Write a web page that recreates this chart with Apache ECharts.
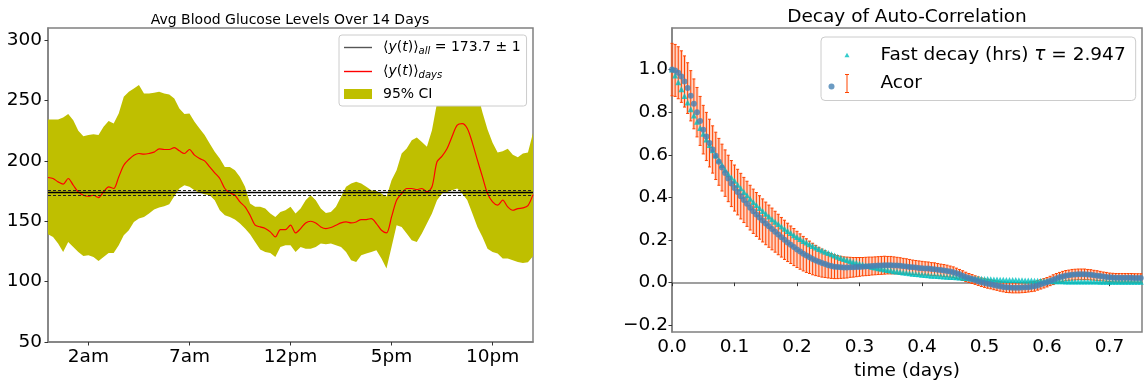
<!DOCTYPE html>
<html>
<head>
<meta charset="utf-8">
<title>Glucose</title>
<script src="https://cdn.jsdelivr.net/npm/echarts@6/dist/echarts.min.js"></script>
<style>
  html, body { margin: 0; padding: 0; background: #fff; }
  #chart { width: 1147px; height: 386px; }
</style>
</head>
<body>
<div id="chart"></div>
<script>
// left panel: mean glucose over the day, read every 15 min
var HOUR_STEP = 0.25;
var glucoseMean = [
  186.2, 185.4, 182.6, 180.7, 185.4, 179.8, 174.3, 171.5, 170.7, 171.5, 169.6, 174.3, 178.5, 177.1, 186.7, 196.4, 201.1, 204.7,
  206.1, 205.5, 206.1, 207.2, 209.9, 209.4, 209.4, 211.0, 208.3, 206.1, 209.4, 204.7, 201.9, 200.0, 195.0, 190.1, 185.4, 177.1,
  173.5, 171.5, 166.0, 161.9, 155.0, 146.7, 145.3, 144.0, 141.2, 137.0, 143.1, 143.0,
  146.7, 140.3, 143.9, 148.6, 150.0, 148.6, 145.3, 143.9, 144.8, 146.7, 148.6, 149.4, 148.6, 149.4, 151.4, 151.4, 152.2, 148.1,
  142.5, 140.3, 153.6, 167.4, 172.9, 177.1, 177.1, 176.2, 177.1, 174.3, 178.5,
  199.2, 203.9, 210.2, 220.4, 229.6, 230.9, 226.8, 214.9, 200.6, 186.7, 172.9, 166.0, 163.3, 167.4, 161.9, 159.1, 160.5,
  161.0, 163.0, 172.0
];
var ciUpper = [
  234.3, 234.3, 234.3, 235.9, 238.7, 233.7, 224.9, 220.4, 221.3, 222.1, 221.3, 228.2, 232.9, 230.9, 239.2, 253.0, 257.2, 259.9,
  262.7, 255.8, 255.8, 256.4, 257.2, 255.8, 255.0, 251.7, 243.4, 238.7, 239.2, 232.3, 226.8, 221.3, 214.4, 207.5, 201.9, 195.0,
  195.0, 192.3, 186.7, 178.5, 164.6, 161.9, 161.9, 160.5, 156.4, 153.6, 157.7, 159.0,
  161.9, 156.4, 160.5, 167.4, 171.5, 167.4, 160.5, 156.9, 157.7, 161.9, 170.2, 178.5, 181.2, 182.6, 181.2, 178.5, 175.7, 175.1,
  172.9, 170.2, 184.0, 192.3, 206.1, 210.2, 217.1, 219.3, 215.7, 211.6, 225.4,
  248, 258, 265, 270, 274, 276, 274, 268, 256, 240, 226, 215, 207, 208, 210, 205, 203, 206, 207, 223
];
var ciLower = [
  139.2, 137.0, 131.5, 124.6, 132.9, 128.7, 124.6, 121.3, 121.8, 120.4, 117.1, 120.4, 123.7, 123.7, 130.1, 138.4, 142.5, 149.4,
  152.2, 153.6, 156.4, 159.7, 161.3, 162.4, 164.1, 170.7, 177.1, 179.8, 178.5, 175.7, 173.5, 172.4, 171.5, 167.4, 159.1, 155.0,
  153.6, 151.4, 148.1, 144.0, 139.2, 132.9, 126.5, 124.6, 123.7, 120.4, 128.7, 130.1,
  130.1, 124.6, 128.7, 127.3, 127.3, 128.7, 131.5, 130.9, 131.5, 130.1, 128.7, 124.6, 117.7, 116.3, 121.8, 123.2, 124.6, 126.0,
  119.1, 110.8, 128.7, 146.7, 145.3, 139.8, 134.3, 132.9, 139.8, 148.1, 156.4,
  167.4, 172.9, 174.3, 175.7, 177.1, 172.9, 167.4, 156.4, 145.3, 137.0, 127.3, 124.6, 123.2, 119.1, 119.1, 117.7, 116.3,
  115.5, 116.0, 121.0
];
var meanAll = 173.7;
var meanAllBounds = [171.7, 175.7];
var hourTicks = [2, 7, 12, 17, 22];
var hourLabels = ['2am', '7am', '12pm', '5pm', '10pm'];
var glucoseTicks = [50, 100, 150, 200, 250, 300];

// right panel: auto-correlation, one value per 0.005 days of lag
var LAG_STEP = 0.005;
var acor = [
  1.000, 0.996, 0.985, 0.967, 0.944, 0.913, 0.877, 0.839, 0.800, 0.759,
  0.718, 0.686, 0.655, 0.625, 0.595, 0.567, 0.540, 0.514, 0.489, 0.465,
  0.444, 0.425, 0.406, 0.388, 0.370, 0.352, 0.335, 0.320, 0.306, 0.292,
  0.278, 0.265, 0.252, 0.239, 0.226, 0.213, 0.201, 0.189, 0.178, 0.167,
  0.156, 0.146, 0.136, 0.127, 0.119, 0.111, 0.104, 0.098, 0.092, 0.087,
  0.082, 0.078, 0.075, 0.073, 0.072, 0.071, 0.071, 0.072, 0.072, 0.073,
  0.074, 0.075, 0.076, 0.077, 0.078, 0.079, 0.080, 0.081, 0.082, 0.082,
  0.082, 0.081, 0.080, 0.079, 0.077, 0.076, 0.074, 0.072, 0.071, 0.069,
  0.068, 0.067, 0.066, 0.064, 0.063, 0.061, 0.059, 0.057, 0.055, 0.052,
  0.049, 0.044, 0.039, 0.033, 0.027, 0.022, 0.017, 0.012, 0.007, 0.002,
  -0.002, -0.005, -0.008, -0.011, -0.014, -0.017, -0.020, -0.022, -0.023, -0.024,
  -0.024, -0.024, -0.023, -0.022, -0.021, -0.019, -0.017, -0.013, -0.008, -0.003,
  0.002, 0.008, 0.014, 0.020, 0.025, 0.029, 0.033, 0.035, 0.037, 0.038,
  0.039, 0.039, 0.039, 0.038, 0.037, 0.035, 0.033, 0.031, 0.029, 0.027,
  0.025, 0.024, 0.023, 0.023, 0.023, 0.023, 0.023, 0.023, 0.022, 0.022,
  0.022
];
var acorErr = [
  0.123, 0.122, 0.122, 0.121, 0.120, 0.119, 0.118, 0.117, 0.116, 0.115,
  0.114, 0.113, 0.112, 0.111, 0.111, 0.110, 0.110, 0.109, 0.109, 0.108,
  0.108, 0.107, 0.107, 0.106, 0.106, 0.105, 0.104, 0.103, 0.102, 0.101,
  0.100, 0.099, 0.098, 0.096, 0.095, 0.093, 0.092, 0.090, 0.088, 0.087,
  0.085, 0.083, 0.081, 0.079, 0.076, 0.074, 0.071, 0.068, 0.066, 0.063,
  0.060, 0.058, 0.056, 0.054, 0.052, 0.050, 0.049, 0.047, 0.046, 0.045,
  0.044, 0.043, 0.043, 0.043, 0.042, 0.042, 0.042, 0.042, 0.042, 0.041,
  0.041, 0.040, 0.039, 0.038, 0.037, 0.036, 0.035, 0.034, 0.033, 0.033,
  0.032, 0.031, 0.031, 0.030, 0.030, 0.029, 0.028, 0.028, 0.027, 0.026,
  0.025, 0.024, 0.023, 0.023, 0.022, 0.021, 0.021, 0.020, 0.020, 0.020,
  0.020, 0.021, 0.021, 0.022, 0.022, 0.023, 0.023, 0.024, 0.024, 0.024,
  0.024, 0.024, 0.024, 0.024, 0.023, 0.023, 0.023, 0.022, 0.022, 0.022,
  0.022, 0.022, 0.023, 0.023, 0.023, 0.024, 0.024, 0.024, 0.025, 0.025,
  0.025, 0.025, 0.025, 0.024, 0.024, 0.023, 0.023, 0.022, 0.021, 0.021,
  0.020, 0.020, 0.020, 0.020, 0.020, 0.020, 0.020, 0.020, 0.020, 0.020,
  0.020
];
var fastDecay = [
  1.000, 0.972, 0.940, 0.908, 0.876, 0.845, 0.814, 0.784, 0.755, 0.726,
  0.699, 0.672, 0.646, 0.621, 0.597, 0.574, 0.552, 0.530, 0.509, 0.493,
  0.478, 0.460, 0.443, 0.426, 0.410, 0.394, 0.379, 0.364, 0.350, 0.336,
  0.323, 0.310, 0.298, 0.286, 0.275, 0.264, 0.253, 0.243, 0.233, 0.223,
  0.214, 0.205, 0.196, 0.188, 0.180, 0.172, 0.165, 0.158, 0.151, 0.145,
  0.139, 0.133, 0.127, 0.121, 0.116, 0.111, 0.106, 0.102, 0.097, 0.093,
  0.089, 0.085, 0.081, 0.078, 0.074, 0.071, 0.068, 0.065, 0.062, 0.059,
  0.057, 0.054, 0.052, 0.050, 0.048, 0.046, 0.044, 0.042, 0.041, 0.039,
  0.037, 0.036, 0.035, 0.033, 0.032, 0.031, 0.030, 0.029, 0.028, 0.027,
  0.026, 0.025, 0.024, 0.023, 0.022, 0.021, 0.020, 0.019, 0.019, 0.018,
  0.017, 0.017, 0.016, 0.015, 0.015, 0.014, 0.014, 0.013, 0.013, 0.012,
  0.012, 0.011, 0.011, 0.010, 0.010, 0.010, 0.009, 0.009, 0.009, 0.008,
  0.008, 0.008, 0.007, 0.007, 0.007, 0.007, 0.006, 0.006, 0.006, 0.006,
  0.006, 0.005, 0.005, 0.005, 0.005, 0.005, 0.005, 0.004, 0.004, 0.004,
  0.004, 0.004, 0.004, 0.004, 0.004, 0.004, 0.004, 0.004, 0.004, 0.004,
  0.004
];
var lagTicks = [0, 0.1, 0.2, 0.3, 0.4, 0.5, 0.6, 0.7];
var acorTicks = [-0.2, 0, 0.2, 0.4, 0.6, 0.8, 1.0];

var FONT = 'DejaVu Sans';
var SPINE = '#808080';
var OLIVE = '#bfbf00';
var ERR_COLOR = '#ff4500';

var hours = glucoseMean.map(function (_, i) { return i * HOUR_STEP; });
var lags = acor.map(function (_, i) { return +(i * LAG_STEP).toFixed(3); });

function axisBase(grid) {
  return {
    gridIndex: grid,
    type: 'value',
    axisLine: {show: true, lineStyle: {color: SPINE, width: 1.5}},
    splitLine: {show: false},
    axisTick: {length: 3.5, lineStyle: {color: '#333', width: 1}},
    axisLabel: {fontSize: 18.5, color: '#000', fontFamily: FONT}
  };
}

function fmtAcor(v) {
  var s = Math.abs(v).toFixed(1);
  return v < -1e-9 ? '\u2212' + s : s;
}

var chart = echarts.init(document.getElementById('chart'), null, {renderer: 'canvas'});

var xLeft = axisBase(0);
xLeft.min = 0; xLeft.max = 24;
xLeft.axisTick.customValues = hourTicks;
xLeft.axisLabel.customValues = hourTicks;
xLeft.axisLabel.margin = 6;
xLeft.axisLabel.formatter = function (v) { return hourLabels[hourTicks.indexOf(v)]; };

var yLeft = axisBase(0);
yLeft.min = 50; yLeft.max = 310;
yLeft.axisTick.customValues = glucoseTicks;
yLeft.axisLabel.customValues = glucoseTicks;
yLeft.axisLabel.margin = 6;

var xRight = axisBase(1);
xRight.min = 0; xRight.max = 0.752;
xRight.axisTick.customValues = lagTicks;
xRight.axisLabel.customValues = lagTicks;
xRight.axisLabel.margin = 6;
xRight.axisLabel.formatter = fmtAcor;
xRight.name = 'time (days)';
xRight.nameLocation = 'middle';
xRight.nameGap = 23;
xRight.nameTextStyle = {fontSize: 18.5, color: '#000', fontFamily: FONT};

var yRight = axisBase(1);
yRight.min = -0.232; yRight.max = 1.195;
yRight.axisTick.customValues = acorTicks;
yRight.axisLabel.customValues = acorTicks;
yRight.axisLabel.margin = 4;
yRight.axisLabel.formatter = fmtAcor;

var legendText = {
  meanAll: '{n|\u27e8}{i|y}{n|(}{i|t}{n|)\u27e9}{s|all}{n| = 173.7 \u00b1 1}',
  meanDays: '{n|\u27e8}{i|y}{n|(}{i|t}{n|)\u27e9}{s|days}',
  ci: '{n|95% CI}',
  fit: '{b|Fast decay (hrs) }{bi|\u03c4}{b| = 2.947}',
  Acor: '{b|Acor}'
};

// thin horizontal bar inside a 28x10 box, used as legend line handle
var LINE_ICON = 'path://M0,0 M28,10 M0,4.3 h28 v1.4 h-28 z';

var option = {
  animation: false,
  textStyle: {fontFamily: FONT},
  title: [
    {text: 'Avg Blood Glucose Levels Over 14 Days', left: 290, top: 13, textAlign: 'center', padding: 0,
     textStyle: {fontSize: 14, fontWeight: 'normal', color: '#000', fontFamily: FONT}},
    {text: 'Decay of Auto-Correlation', left: 907, top: 8, textAlign: 'center', padding: 0,
     textStyle: {fontSize: 18.5, fontWeight: 'normal', color: '#000', fontFamily: FONT}}
  ],
  grid: [
    {left: 48, top: 28, width: 485, height: 314, show: true, borderColor: SPINE, borderWidth: 1.5},
    {left: 672, top: 28, width: 470, height: 314, show: true, borderColor: SPINE, borderWidth: 1.5}
  ],
  xAxis: [xLeft, xRight],
  yAxis: [yLeft, yRight],
  legend: [
    {
      data: [{name: 'meanAll', icon: LINE_ICON}, {name: 'meanDays', icon: LINE_ICON}, {name: 'ci', icon: 'rect'}],
      orient: 'vertical', left: 339, top: 35,
      padding: [4, 6, 5, 5], itemGap: 7, itemWidth: 28, itemHeight: 10,
      backgroundColor: '#ffffff', borderColor: '#cccccc', borderWidth: 1, borderRadius: 3,
      selectedMode: false,
      formatter: function (name) { return legendText[name]; },
      textStyle: {
        padding: [0, 0, 0, 6],
        rich: {
          n: {fontSize: 14, fontFamily: FONT, color: '#000', lineHeight: 16},
          i: {fontSize: 14, fontFamily: FONT, fontStyle: 'italic', color: '#000', lineHeight: 16},
          s: {fontSize: 10, fontFamily: FONT, fontStyle: 'italic', color: '#000', lineHeight: 16, padding: [7, 0, 0, 0]}
        }
      }
    },
    {
      data: [
        {name: 'fit', icon: 'path://M0,0 M37,20 M16,12.3 L21,12.3 L18.5,7.7 Z'},
        {name: 'Acor', icon: 'path://M0,0 M37,20 M18,1 h1 v18 h-1 z M16.5,0.5 h4 v1 h-4 z M16.5,18.5 h4 v1 h-4 z'}
      ],
      orient: 'vertical', left: 821, top: 37,
      padding: [8, 10, 7, 7.5], itemGap: 8.5, itemWidth: 37, itemHeight: 20,
      backgroundColor: '#ffffff', borderColor: '#cccccc', borderWidth: 1, borderRadius: 4,
      selectedMode: false,
      formatter: function (name) { return legendText[name]; },
      textStyle: {
        padding: [0, 0, 0, 10],
        rich: {
          b: {fontSize: 18.5, fontFamily: FONT, color: '#000', lineHeight: 22},
          bi: {fontSize: 18.5, fontFamily: FONT, fontStyle: 'italic', color: '#000', lineHeight: 22}
        }
      }
    },
    {
      // blue marker drawn on top of the error-bar icon
      data: [{name: 'acorPts', icon: 'circle'}],
      left: 828.5, top: 83.5, padding: 0, itemWidth: 37, itemHeight: 6,
      selectedMode: false,
      formatter: function () { return ''; },
      textStyle: {fontSize: 1, lineHeight: 1}
    }
  ],
  series: [
    {
      name: 'ci', type: 'custom', xAxisIndex: 0, yAxisIndex: 0, z: 1,
      data: hours.map(function (h, i) { return [h, ciLower[i], ciUpper[i]]; }),
      encode: {x: 0, y: [1, 2]},
      itemStyle: {color: OLIVE},
      renderItem: function (params, api) {
        if (params.dataIndex !== 0) return null;
        var pts = [];
        for (var i = 0; i < hours.length; i++) pts.push(api.coord([hours[i], ciUpper[i]]));
        for (var j = hours.length - 1; j >= 0; j--) pts.push(api.coord([hours[j], ciLower[j]]));
        return {type: 'polygon', shape: {points: pts}, style: {fill: OLIVE}};
      }
    },
    {
      name: 'meanAll', type: 'line', xAxisIndex: 0, yAxisIndex: 0, z: 3, data: [],
      symbol: 'none', lineStyle: {color: '#555', width: 1.5}, itemStyle: {color: '#555'},
      markLine: {
        silent: true, symbol: 'none', label: {show: false}, animation: false,
        lineStyle: {color: '#000', width: 1.3, type: 'solid'},
        data: [{yAxis: meanAll}]
      }
    },
    {
      name: 'meanAllBounds', type: 'line', xAxisIndex: 0, yAxisIndex: 0, z: 3, data: [],
      symbol: 'none',
      markLine: {
        silent: true, symbol: 'none', label: {show: false}, animation: false,
        lineStyle: {color: '#222', width: 1.2, type: [3, 2]},
        data: meanAllBounds.map(function (v) { return {yAxis: v}; })
      }
    },
    {
      name: 'meanDays', type: 'line', xAxisIndex: 0, yAxisIndex: 0, z: 4,
      data: hours.map(function (h, i) { return [h, glucoseMean[i]]; }),
      symbol: 'none', smooth: 0.3,
      lineStyle: {color: '#ff0000', width: 1.2}, itemStyle: {color: '#ff0000'}
    },
    {
      name: 'Acor', type: 'custom', xAxisIndex: 1, yAxisIndex: 1, z: 2,
      data: lags.map(function (t, i) { return [t, acor[i], acorErr[i]]; }),
      encode: {x: 0, y: 1},
      itemStyle: {color: ERR_COLOR},
      renderItem: function (params, api) {
        var t = api.value(0), v = api.value(1), e = api.value(2);
        var hi = api.coord([t, v + e]);
        var lo = api.coord([t, v - e]);
        var w = api.size([LAG_STEP, 0])[0];
        var st = {stroke: ERR_COLOR, lineWidth: 1};
        return {
          type: 'group',
          children: [
            {type: 'rect', shape: {x: hi[0] - w / 2, y: hi[1], width: w, height: lo[1] - hi[1]},
             style: {fill: 'rgba(255, 120, 70, 0.35)'}},
            {type: 'line', shape: {x1: hi[0], y1: hi[1], x2: lo[0], y2: lo[1]}, style: st},
            {type: 'line', shape: {x1: hi[0] - 1.5, y1: hi[1], x2: hi[0] + 1.5, y2: hi[1]}, style: st},
            {type: 'line', shape: {x1: lo[0] - 1.5, y1: lo[1], x2: lo[0] + 1.5, y2: lo[1]}, style: st}
          ]
        };
      }
    },
    {
      name: 'fit', type: 'scatter', xAxisIndex: 1, yAxisIndex: 1, z: 3,
      data: lags.map(function (t, i) { return [t, fastDecay[i]]; }),
      symbol: 'triangle', symbolSize: 6, itemStyle: {color: '#00bfbf'}
    },
    {
      name: 'acorPts', type: 'scatter', xAxisIndex: 1, yAxisIndex: 1, z: 4,
      data: lags.map(function (t, i) { return [t, acor[i]]; }),
      symbol: 'circle', symbolSize: 6, itemStyle: {color: '#4682b4'}
    }
  ]
};

chart.setOption(option);
</script>
</body>
</html>
